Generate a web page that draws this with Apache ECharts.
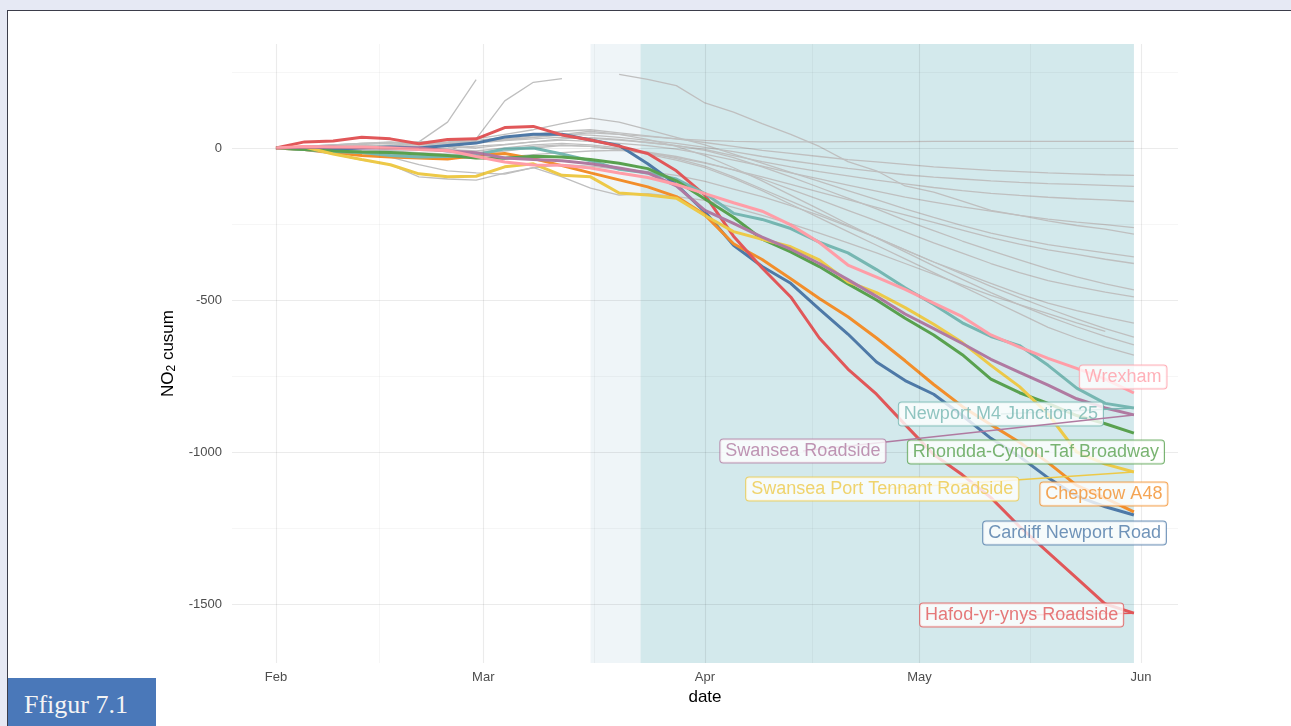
<!DOCTYPE html>
<html>
<head>
<meta charset="utf-8">
<script src="https://cdn.jsdelivr.net/npm/echarts@6/dist/echarts.min.js"></script>
<style>
  html, body { margin: 0; padding: 0; width: 1291px; height: 726px; overflow: hidden; background: #e6e9f4; }
  #frame { position: absolute; left: 7px; top: 10px; width: 1300px; height: 730px; background: #fff;
           border-left: 1.5px solid #3b3d4a; border-top: 1.5px solid #3b3d4a; }
  #chart { position: absolute; left: 0; top: 0; width: 1291px; height: 726px; }
  #fig { position: absolute; left: 8px; top: 678px; width: 148px; height: 48px; background: #4a78b9;
         color: #f4f4f4; font-family: 'Liberation Serif', serif; font-size: 26px; line-height: 54px;
         padding-left: 16px; box-sizing: border-box; }
</style>
</head>
<body>
<div id="frame"></div>
<div id="chart"></div>
<div id="fig">Ffigur 7.1</div>
<script>
// sample dates (every 4 days, Feb 1 - May 31 2020)
const dates = ['2020-02-01','2020-02-05','2020-02-09','2020-02-13','2020-02-17','2020-02-21','2020-02-25','2020-02-29',
  '2020-03-04','2020-03-08','2020-03-12','2020-03-16','2020-03-20','2020-03-24','2020-03-28','2020-04-01',
  '2020-04-05','2020-04-09','2020-04-13','2020-04-17','2020-04-21','2020-04-25','2020-04-29','2020-05-03',
  '2020-05-07','2020-05-11','2020-05-15','2020-05-19','2020-05-23','2020-05-27','2020-05-31']

const monthTicks = ['2020-02-01','2020-03-01','2020-04-01','2020-05-01','2020-06-01']
const monthNames = ['Feb','Mar','Apr','May','Jun']
const yTicks = [0, -500, -1000, -1500]

// highlighted sites
const cardiff = [0,-2,-5,0,3,0,8,16,36,45,45,26,8,-52,-120,-210,-320,-390,-445,-530,-612,-704,-765,-810,-880,-955,-1015,-1085,-1145,-1180,-1207]
const chepstow = [0,-5,-15,-25,-30,-33,-36,-25,-18,-35,-58,-82,-105,-128,-160,-220,-315,-367,-430,-495,-555,-625,-700,-778,-850,-910,-968,-1035,-1110,-1152,-1197]
const hafod = [0,20,23,35,30,14,28,30,67,71,43,26,6,-18,-75,-155,-290,-395,-490,-625,-727,-810,-910,-1008,-1075,-1150,-1245,-1330,-1415,-1500,-1530]
const newport = [0,-5,-12,-15,-25,-30,-28,-22,-3,0,-20,-42,-70,-82,-102,-150,-215,-235,-265,-310,-345,-400,-460,-515,-575,-620,-650,-715,-790,-840,-855]
const rhondda = [0,-5,-10,-13,-15,-20,-25,-33,-34,-27,-30,-38,-50,-68,-108,-168,-228,-300,-342,-390,-447,-500,-560,-615,-680,-760,-805,-840,-880,-907,-938]
const portTennant = [0,3,-20,-38,-55,-85,-95,-93,-62,-52,-90,-95,-148,-155,-165,-222,-275,-300,-325,-368,-440,-476,-525,-580,-640,-715,-785,-875,-1000,-1040,-1066]
const swanseaRoad = [0,2,3,0,0,0,-10,-16,-33,-38,-42,-52,-66,-82,-125,-205,-248,-293,-333,-380,-433,-488,-546,-594,-643,-695,-738,-780,-825,-855,-878]
const wrexham = [0,5,3,3,0,-5,-8,-28,-46,-56,-57,-66,-82,-97,-120,-150,-180,-208,-253,-311,-385,-425,-465,-510,-555,-615,-655,-692,-725,-760,-806]

// other sites (grey); null = outside the plotted range
const g00 = [0,4,8,12,6,20,85,225,null,null,null,null,null,null,null,null,null,null,null,null,null,null,null,null,null,null,null,null,null,null,null]
const g01 = [0,3,5,8,10,12,15,20,28,35,42,50,45,38,30,25,22,20,20,20,21,21,21,22,22,22,22,22,22,22,22]
const g02 = [0,0,2,5,8,12,18,25,35,45,55,60,50,40,30,18,5,-8,-18,-28,-38,-46,-54,-62,-68,-74,-78,-82,-85,-88,-90]
const g03 = [0,-3,0,4,8,10,14,20,30,40,45,42,35,25,15,2,-12,-28,-42,-55,-67,-78,-88,-96,-102,-108,-113,-117,-120,-123,-126]
const g04 = [0,2,6,4,0,4,10,16,24,30,36,32,26,18,8,-5,-25,-45,-62,-78,-92,-106,-118,-130,-140,-149,-156,-162,-167,-171,-176]
const g05 = [0,0,-4,-10,-8,-4,0,6,12,20,26,22,15,8,-4,-20,-40,-60,-82,-102,-122,-142,-162,-178,-194,-208,-222,-234,-244,-252,-262]
const g06 = [0,-5,-5,0,-5,-8,-12,30,155,216,228,null,242,226,205,148,118,80,45,5,-45,-75,-125,-145,-175,-205,-222,-240,-255,-267,-283]
const g07 = [0,5,10,15,18,10,5,0,10,20,30,34,28,18,8,-8,-32,-62,-95,-130,-165,-200,-238,-272,-306,-338,-368,-398,-424,-447,-467]
const g08 = [0,-5,-10,-15,-20,-25,-30,-35,-30,-22,-15,-10,-8,-14,-28,-48,-72,-102,-136,-170,-205,-240,-276,-312,-346,-380,-410,-436,-456,-474,-490]
const g09 = [0,0,5,10,5,0,-5,-10,0,10,15,10,0,-15,-35,-60,-95,-135,-175,-215,-255,-295,-335,-375,-410,-445,-480,-510,-535,-556,-576]
const g10 = [0,-8,-20,-40,-55,-95,-102,-106,-83,-65,-95,-132,-155,-150,-160,-172,-195,-222,-250,-280,-312,-345,-380,-415,-450,-485,-515,-545,-575,-603,null]
const g11 = [0,5,0,-10,-30,-55,-75,-82,-86,-65,-55,-60,-70,-78,-90,-110,-135,-160,-190,-222,-258,-295,-335,-375,-415,-455,-492,-528,-562,-594,-622]
const g12 = [0,5,10,15,15,20,25,20,25,35,45,55,45,28,5,-25,-65,-108,-155,-202,-250,-296,-342,-388,-432,-476,-516,-554,-588,-620,-648]
const g13 = [0,3,5,5,0,-5,-10,-15,-5,5,10,5,-5,-20,-40,-65,-100,-140,-185,-230,-275,-320,-365,-410,-455,-500,-545,-590,-625,-655,-681]
const g14 = [0,0,-5,-10,-10,-15,-20,-20,-10,0,8,5,-5,-18,-32,-50,-72,-95,-120,-145,-170,-195,-220,-245,-270,-295,-316,-335,-350,-366,-380]
const g15 = [0,5,10,15,20,15,20,30,45,60,80,98,85,60,35,10,-20,-50,-80,-110,-140,-170,-200,-228,-255,-280,-300,-318,-332,-345,-358]
const greyLines = [g00,g01,g02,g03,g04,g05,g06,g07,g08,g09,g10,g11,g12,g13,g14,g15]

const siteNames = ['Cardiff Newport Road','Chepstow A48','Hafod-yr-ynys Roadside','Newport M4 Junction 25',
  'Rhondda-Cynon-Taf Broadway','Swansea Port Tennant Roadside','Swansea Roadside','Wrexham']
const siteValues = [cardiff, chepstow, hafod, newport, rhondda, portTennant, swanseaRoad, wrexham]
const siteColors = ['#4e79a7','#f28e2b','#e15759','#76b7b2','#59a14f','#edc948','#b07aa1','#ff9da7']

// where the repelled labels sit (days after Feb 1, value) and whether a leader is drawn
const labelDay = [111.7, 115.8, 104.3, 101.4, 106.3, 84.8, 73.7, 118.5]
const labelVal = [-1266, -1138, -1536, -875, -1000, -1122, -997, -753]
const hasLeader = [false, false, true, true, false, true, true, false]

// x is "days after 1 Feb 2020"
const DAY = 86400000
function toTime(s) {
  const p = s.split('-').map(Number)
  return Date.UTC(p[0], p[1] - 1, p[2])
}
const t0 = toTime('2020-02-01')
const toDay = s => Math.round((toTime(s) - t0) / DAY)
const days = dates.map(toDay)
const monthDays = monthTicks.map(toDay)
const pairs = arr => days.map((d, i) => [d, arr[i]])

const chart = echarts.init(document.getElementById('chart'), null, { renderer: 'canvas' })

const series = []
// shaded periods
series.push({
  type: 'line', data: [], z: 0, silent: true,
  markArea: {
    silent: true,
    data: [
      [{ xAxis: toDay('2020-03-16'), itemStyle: { color: '#eff5f8' } }, { xAxis: toDay('2020-05-31') }],
      [{ xAxis: toDay('2020-03-23'), itemStyle: { color: '#d3e9ec' } }, { xAxis: toDay('2020-05-31') }]
    ]
  }
})
// grid lines (ggplot major + minor)
const major = { color: 'rgba(0,0,0,0.08)', width: 1.1, type: 'solid' }
const minor = { color: 'rgba(0,0,0,0.055)', width: 0.7, type: 'solid' }
const minorX = monthDays.slice(0, -1).map((d, i) => (d + monthDays[i + 1]) / 2)
series.push({
  type: 'line', data: [], z: 1, silent: true,
  markLine: {
    silent: true, symbol: ['none', 'none'], label: { show: false }, animation: false,
    data: [
      ...monthDays.map(d => ({ xAxis: d, lineStyle: major })),
      ...minorX.map(d => ({ xAxis: d, lineStyle: minor })),
      ...yTicks.map(v => ({ yAxis: v, lineStyle: major })),
      ...[250, -250, -750, -1250].map(v => ({ yAxis: v, lineStyle: minor }))
    ]
  }
})
greyLines.forEach((g, i) => {
  series.push({
    name: 'other' + i, type: 'line', data: pairs(g), z: 2, showSymbol: false, silent: true,
    lineStyle: { color: '#bfbfbf', width: 1.3 }
  })
})
siteValues.forEach((vals, i) => {
  series.push({
    name: siteNames[i], type: 'line', data: pairs(vals), z: 3, showSymbol: false, silent: true,
    lineStyle: { color: siteColors[i], width: 3 }
  })
})
siteValues.forEach((vals, i) => {
  const pos = [labelDay[i], labelVal[i]]
  if (hasLeader[i]) {
    series.push({
      type: 'line', z: 10 + 2 * i, showSymbol: false, silent: true,
      data: [[days[days.length - 1], vals[vals.length - 1]], pos],
      lineStyle: { color: siteColors[i], width: 1.5 }
    })
  }
  series.push({
    type: 'scatter', z: 11 + 2 * i, silent: true, symbolSize: 1,
    itemStyle: { color: 'rgba(0,0,0,0)' },
    data: [pos],
    label: {
      show: true, position: 'inside', formatter: siteNames[i],
      color: siteColors[i], fontSize: 18, fontFamily: 'Liberation Sans',
      backgroundColor: '#fff', borderColor: siteColors[i], borderWidth: 1, borderRadius: 3,
      padding: [3, 5, 2, 5]
    }
  })
})

chart.setOption({
  animation: false,
  grid: { left: 232, right: 113, top: 44, bottom: 63 },
  xAxis: {
    type: 'value', min: -6.15, max: 126.17,
    axisLine: { show: false }, axisTick: { show: false }, splitLine: { show: false },
    axisLabel: {
      customValues: monthDays,
      formatter: v => {
        const k = monthDays.indexOf(v)
        return k >= 0 ? monthNames[k] : ''
      },
      color: '#4d4d4d', fontSize: 13, fontFamily: 'Liberation Sans', margin: 8
    },
    name: 'date', nameLocation: 'middle', nameGap: 24,
    nameTextStyle: { color: '#000', fontSize: 17, fontFamily: 'Liberation Sans' }
  },
  yAxis: {
    type: 'value', min: -1694, max: 342,
    axisLine: { show: false }, axisTick: { show: false }, splitLine: { show: false },
    axisLabel: {
      customValues: yTicks, formatter: v => String(v),
      color: '#4d4d4d', fontSize: 13, fontFamily: 'Liberation Sans', margin: 10
    },
    name: 'NO{sub|2} cusum', nameLocation: 'middle', nameRotate: 90, nameGap: 47,
    nameTextStyle: {
      color: '#000', fontSize: 17, fontFamily: 'Liberation Sans',
      rich: { sub: { fontSize: 12, fontFamily: 'Liberation Sans', color: '#000', verticalAlign: 'bottom', padding: [7, 0, 0, 0] } }
    }
  },
  series
})
</script>
</body>
</html>
